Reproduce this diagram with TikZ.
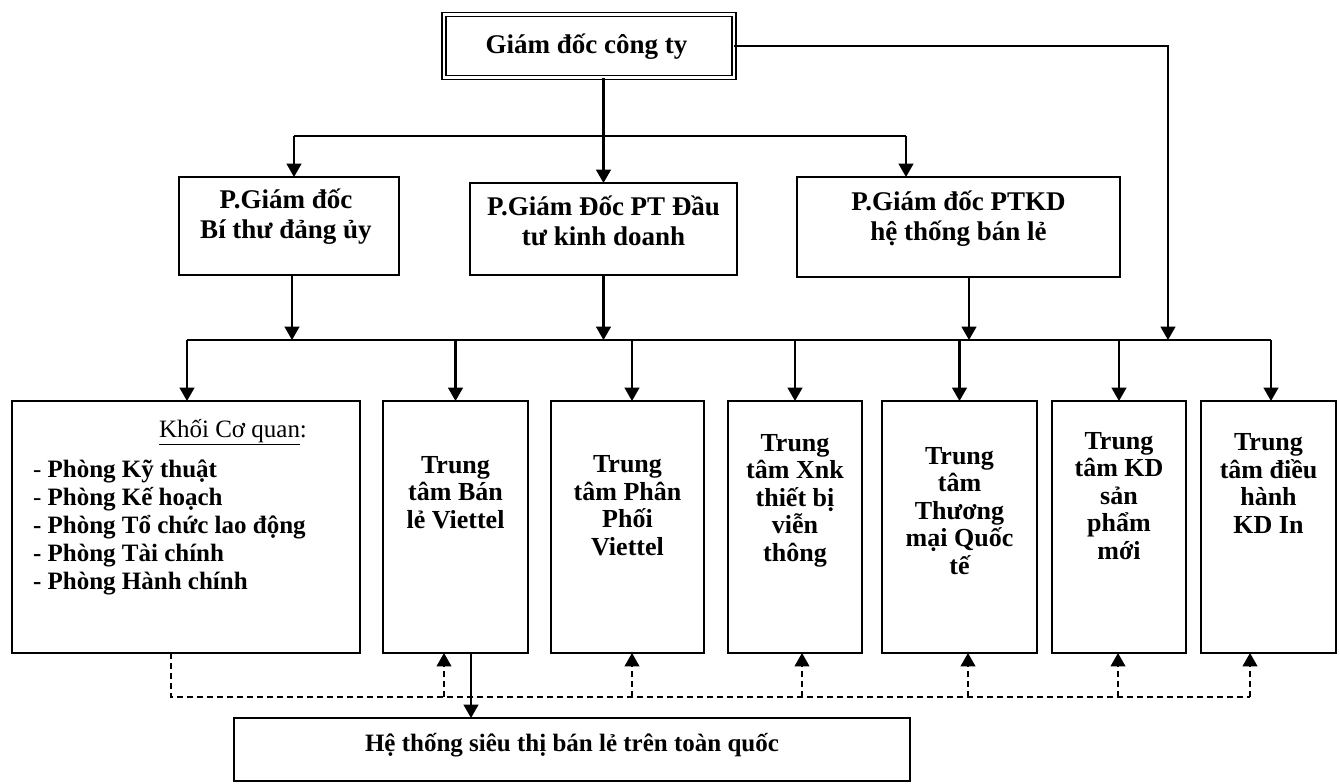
\documentclass[tikz,border=0pt]{standalone}
\usepackage{fontspec}
\setmainfont{Liberation Serif}
\usetikzlibrary{arrows.meta,calc}
\begin{document}
\begin{tikzpicture}[x=0.75pt,y=-0.75pt,
  box/.style={draw, line width=1.5pt, inner sep=0pt, outer sep=0pt},
  topbox/.style={draw, line width=1.4pt, double, double distance=1.6pt, inner sep=0pt, outer sep=0pt},
  plain/.style={line width=1.6pt},
  conn/.style={line width=1.6pt, -{Triangle[width=11pt,length=10pt]}},
  dline/.style={line width=1.4pt, dash pattern=on 4.5pt off 3pt},
  dconn/.style={dline, -{Triangle[width=11pt,length=10pt]}},
  ttl/.style={font=\bfseries\fontsize{20.25}{22.5}\selectfont, inner sep=0pt, outer sep=0pt},
  toptxt/.style={font=\bfseries\fontsize{20.25}{22.5}\selectfont, align=center, inner sep=0pt, outer sep=0pt},
  bottxt/.style={font=\bfseries\fontsize{19.5}{20.6}\selectfont, align=center, inner sep=0pt, outer sep=0pt},
  listtxt/.style={font=\bfseries\fontsize{18.75}{21}\selectfont, align=left, inner sep=0pt, outer sep=0pt},
  headtxt/.style={font=\fontsize{18.75}{21}\selectfont, inner sep=0pt, outer sep=0pt},
  hetxt/.style={font=\bfseries\fontsize{18.75}{21}\selectfont, inner sep=0pt, outer sep=0pt}
]
\useasboundingbox (0,0) rectangle (1340,783);

% ---- boxes ----
\node[topbox, minimum width=217.5pt, minimum height=47.25pt] (T) at (588.6,46) {};
\node[box, minimum width=165pt, minimum height=73.5pt] (P1) at (289,226) {};
\node[box, minimum width=200.25pt, minimum height=69pt] (P2) at (603.5,229) {};
\node[box, minimum width=242.25pt, minimum height=75pt] (P3) at (958.5,227) {};

\node[box, minimum width=261pt, minimum height=189pt] (A) at (186,527) {};
\node[box, minimum width=108.75pt, minimum height=189pt] (B) at (455.5,527) {};
\node[box, minimum width=114.75pt, minimum height=189pt] (C) at (627.5,527) {};
\node[box, minimum width=100.5pt, minimum height=189pt] (D) at (795,527) {};
\node[box, minimum width=116.25pt, minimum height=189pt] (E) at (959.5,527) {};
\node[box, minimum width=100.5pt, minimum height=189pt] (F) at (1119,527) {};
\node[box, minimum width=101.25pt, minimum height=189pt] (G) at (1268.5,527) {};

\node[box, minimum width=507pt, minimum height=47.25pt] (H) at (572,749.5) {};

% ---- texts (base anchor = baseline of last line) ----
\node[ttl, anchor=base] (Tt) at (586.5,53) {Giám đốc công ty};
\node[toptxt, anchor=base] (P1t) at (286,238) {P.Giám đốc\\Bí thư đảng ủy};
\node[toptxt, anchor=base] (P2t) at (603.5,245) {P.Giám Đốc PT Đầu\\tư kinh doanh};
\node[toptxt, anchor=base] (P3t) at (958.5,240) {P.Giám đốc PTKD\\hệ thống bán lẻ};

\node[headtxt, anchor=base west] (Ah) at (159,437) {\underline{Khối Cơ quan}:};
\node[listtxt, anchor=base west] (Al) at (33,589) {{\mdseries -} Phòng Kỹ thuật\\{\mdseries -} Phòng Kế hoạch\\- Phòng Tổ chức lao động\\- Phòng Tài chính\\- Phòng Hành chính};

\node[bottxt, anchor=base] (Bt) at (455.5,528) {Trung\\tâm Bán\\lẻ Viettel};
\node[bottxt, anchor=base] (Ct) at (627.5,555) {Trung\\tâm Phân\\Phối\\Viettel};
\node[bottxt, anchor=base] (Dt) at (795,561) {Trung\\tâm Xnk\\thiết bị\\viễn\\thông};
\node[bottxt, anchor=base] (Et) at (959.5,574) {Trung\\tâm\\Thương\\mại Quốc\\tế};
\node[bottxt, anchor=base] (Ft) at (1119,559) {Trung\\tâm KD\\sản\\phẩm\\mới};
\node[bottxt, anchor=base] (Gt) at (1268.5,533) {Trung\\tâm điều\\hành\\KD In};

\node[hetxt, anchor=base] (Ht) at (572,751) {Hệ thống siêu thị bán lẻ trên toàn quốc};

% ---- connectors: level 1 ----
\coordinate (h1) at (294,136);
\coordinate (h3) at (906,136);
\draw[conn] (T.south -| P2.north) -- (P2.north);
\draw[plain] (h1) -- (h3);
\draw[conn] (h1) -- (h1 |- P1.north);
\draw[conn] (h3) -- (h3 |- P3.north);

% ---- bus ----
\coordinate (busL) at (187,340);
\coordinate (busR) at (1271,340);
\coordinate (rc) at (1168,340);
\draw[plain] (busL) -- (busR);
\draw[conn] (T.east) -| (rc);
\path ($(P1.south)+(3,0)$) coordinate (p1b);
\path ($(P3.south)+(10.5,0)$) coordinate (p3b);
\draw[conn] (p1b) -- (p1b |- busL);
\draw[conn] (P2.south) -- (P2.south |- busL);
\draw[conn] (p3b) -- (p3b |- busL);

\path ($(C.north)+(4.5,0)$) coordinate (cn);
\draw[conn] (busL) -- (busL |- A.north);
\draw[conn] (B.north |- busL) -- (B.north);
\draw[conn] (cn |- busL) -- (cn);
\draw[conn] (D.north |- busL) -- (D.north);
\draw[conn] (E.north |- busL) -- (E.north);
\draw[conn] (F.north |- busL) -- (F.north);
\draw[conn] (busR) -- (busR |- G.north);

% ---- dashed links ----
\coordinate (dL) at (171,697);
\coordinate (dR) at (1250,697);
\draw[dline] (A.south -| dL) -- (dL) -- (dR);
\path ($(B.south)+(-11.5,0)$) coordinate (bs);
\path ($(C.south)+(4.5,0)$) coordinate (cs);
\path ($(D.south)+(7,0)$) coordinate (ds);
\path ($(E.south)+(8.5,0)$) coordinate (es);
\path ($(F.south)+(-1,0)$) coordinate (fs);
\path ($(G.south)+(-18.5,0)$) coordinate (gs);
\draw[dconn] (bs |- dL) -- (bs);
\draw[dconn] (cs |- dL) -- (cs);
\draw[dconn] (ds |- dL) -- (ds);
\draw[dconn] (es |- dL) -- (es);
\draw[dconn] (fs |- dL) -- (fs);
\draw[dconn] (dR) -- (gs);

% ---- to supermarket system ----
\path ($(B.south)+(15.5,0)$) coordinate (bh);
\draw[conn] (bh) -- (bh |- H.north);
\end{tikzpicture}
\end{document}
